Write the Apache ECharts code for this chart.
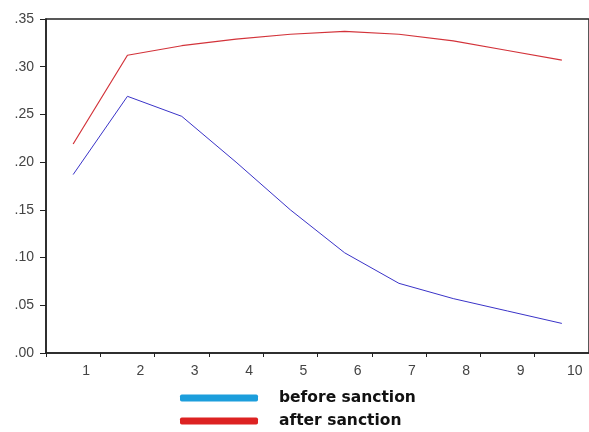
<!DOCTYPE html>
<html>
<head>
<meta charset="utf-8">
<script src="https://cdn.jsdelivr.net/npm/echarts@6/dist/echarts.min.js"></script>
<style>
  html, body { margin: 0; padding: 0; background: #fff; }
  #chart { width: 589px; height: 432px; }
</style>
</head>
<body>
<div id="chart"></div>
<script>
// periods on the x axis
const periods = ["1", "2", "3", "4", "5", "6", "7", "8", "9", "10"];
const beforeSanction = [0.187, 0.269, 0.248, 0.200, 0.150, 0.105, 0.073, 0.057, 0.044, 0.031];
const afterSanction = [0.219, 0.312, 0.322, 0.329, 0.334, 0.337, 0.334, 0.327, 0.317, 0.307];
const seriesNames = ["before sanction", "after sanction"];

const chart = echarts.init(document.getElementById("chart"), null, { renderer: "canvas" });

chart.setOption({
  animation: false,
  backgroundColor: "#fff",
  grid: {
    left: 46,
    top: 19,
    width: 554,
    height: 334,
    show: true,
    borderColor: "#222",
    borderWidth: 1.5,
  },
  xAxis: {
    type: "category",
    data: periods,
    boundaryGap: true,
    axisLine: { lineStyle: { color: "#222", width: 1.5 } },
    axisTick: { show: true, length: 4, lineStyle: { color: "#222" } },
    axisLabel: {
      color: "#444",
      fontFamily: "Liberation Sans",
      fontSize: 14,
      margin: 11,
      padding: [0, 0, 0, 26],
    },
    splitLine: { show: false },
  },
  yAxis: {
    type: "value",
    min: 0,
    max: 0.35,
    interval: 0.05,
    axisLine: { show: true, lineStyle: { color: "#222", width: 1.5 } },
    axisTick: { show: true, length: 6, lineStyle: { color: "#222" } },
    axisLabel: {
      color: "#444",
      fontFamily: "Liberation Sans",
      fontSize: 14,
      margin: 12,
      formatter: (v) => v.toFixed(2).replace(/^0/, ""),
    },
    splitLine: { show: false },
  },
  legend: {
    orient: "vertical",
    left: 180,
    top: 390,
    height: 60,
    padding: 0,
    icon: "roundRect",
    itemWidth: 78,
    itemHeight: 7,
    itemGap: 7,
    textStyle: {
      color: "#111",
      fontFamily: "DejaVu Sans",
      fontWeight: "bold",
      fontSize: 15.5,
      padding: [0, 0, 0, 16],
    },
    data: [
      { name: seriesNames[0], itemStyle: { color: "#1c9edc" } },
      { name: seriesNames[1], itemStyle: { color: "#dd2222" } },
    ],
  },
  series: [
    {
      name: seriesNames[0],
      type: "line",
      data: beforeSanction,
      symbol: "none",
      lineStyle: { color: "#3a33c8", width: 1 },
      itemStyle: { color: "#3a33c8" },
    },
    {
      name: seriesNames[1],
      type: "line",
      data: afterSanction,
      symbol: "none",
      lineStyle: { color: "#d3333a", width: 1.2 },
      itemStyle: { color: "#d3333a" },
    },
  ],
});
</script>
</body>
</html>
